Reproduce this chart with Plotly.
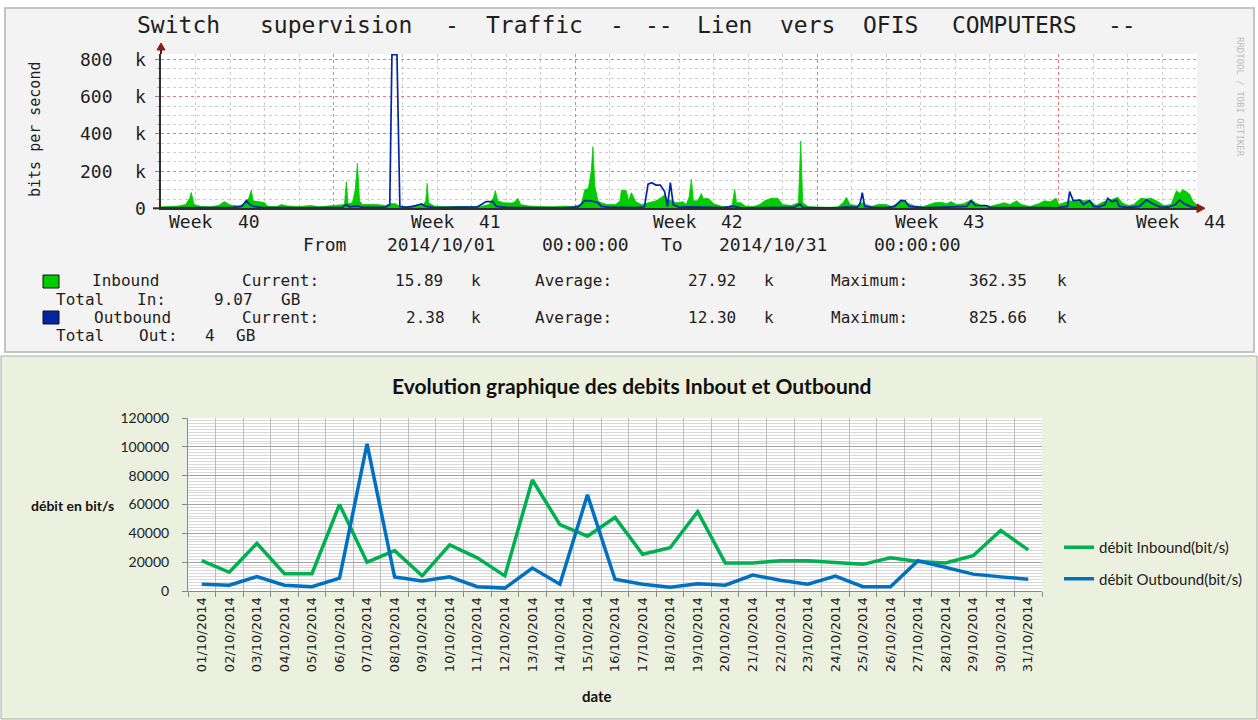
import plotly.graph_objects as go
import pandas as pd

W, H = 1258, 720


def px(x):
    return x / W


def py(y):
    return 1 - y / H


# ---------------- top chart data (RRDtool traffic, k bits/s) ----------------
in_hours = [0, 6, 12, 17, 20, 21, 23, 28, 34, 40, 44, 48, 54, 58, 61, 62.8, 64, 68, 72, 74,
            80, 83.6, 88, 96, 104, 110, 118, 124, 127.5, 128.8, 130, 133, 135, 136.5, 138, 140,
            148, 156, 160, 163, 166, 172, 178, 182, 184, 185, 186, 190, 198, 206, 214, 222,
            228, 231, 232.4, 234, 238, 244, 246, 248, 250, 256, 264, 272, 280, 286, 292, 294.5,
            297, 299, 300.2, 301.5, 303.7, 306, 310, 316, 319, 320, 323.4, 325, 326.9, 330, 334,
            338.5, 344, 348, 350, 352, 355, 358, 362.8, 365, 367, 368.6, 370, 373, 375.5, 377,
            379, 381, 384, 390, 394, 397, 398.7, 400, 403, 406, 412, 416, 419.5, 424, 428.8,
            432, 438, 443, 444.6, 446, 450, 457, 464, 470.5, 474, 476.3, 479, 484, 487.4, 490,
            494, 498, 503, 508, 512, 515.7, 518, 524, 530, 537.7, 542.3, 546, 549, 553, 558,
            563, 566, 570, 576, 581, 586, 590, 594.5, 598, 604, 610, 614, 618, 622, 624, 628,
            631.5, 635, 638.5, 642, 645.4, 650, 655, 660, 665, 668, 672, 676, 681, 685, 688,
            693, 697, 702, 705.7, 708, 710, 712.6, 715, 717, 720]
in_kbps = [8, 10, 12, 20, 55, 85, 20, 10, 8, 15, 36, 18, 12, 25, 55, 98, 40, 36, 30, 12,
           8, 20, 12, 10, 15, 8, 12, 18, 20, 143, 25, 30, 100, 242, 40, 20,
           22, 15, 25, 25, 10, 8, 18, 15, 40, 134, 30, 12, 8, 10, 8, 10,
           20, 55, 95, 40, 30, 28, 35, 54, 20, 12, 10, 8, 12, 10, 20, 100,
           107, 200, 331, 120, 40, 30, 20, 20, 40, 98, 95, 40, 84, 35, 20,
           30, 40, 60, 72, 50, 40, 30, 35, 20, 60, 156, 40, 40, 80, 50,
           54, 50, 25, 10, 8, 20, 102, 30, 30, 12, 10, 20, 40, 54, 54,
           20, 15, 30, 362, 30, 8, 5, 5, 8, 30, 59, 20, 15, 30, 20,
           10, 20, 22, 10, 30, 45, 30, 12, 10, 30, 32, 25, 36, 20, 25,
           45, 30, 15, 10, 20, 30, 20, 40, 20, 10, 25, 40, 35, 55, 20, 30,
           40, 35, 45, 40, 45, 15, 35, 45, 60, 30, 15, 20, 55, 50, 55,
           35, 15, 20, 95, 80, 100, 90, 75, 40, 16]

out_hours = [0, 10, 20, 30, 40, 50, 56, 59.3, 61, 64, 70, 80, 90, 100, 110, 120, 126, 128.8,
             131, 134, 137, 140, 150, 156, 159, 160.5, 164, 166, 170, 175, 178.6, 181, 184,
             190, 200, 210, 220, 226, 230.7, 233, 240, 250, 260, 270, 280, 290, 294.5, 299,
             303.7, 306, 312, 320, 330, 336, 338.5, 341, 344, 347, 350, 352, 354, 356, 360,
             366, 372, 378, 390, 398, 402, 410, 420, 430, 440, 444, 446, 456, 470, 476, 484,
             486, 487.4, 489, 495, 505, 510, 514, 517, 520, 530, 540, 550, 560, 563, 566,
             573.6, 576, 586, 594, 604, 614, 622, 630, 631.5, 634, 638.5, 641, 645.4, 648,
             652, 656, 658, 661, 664, 666, 672, 680, 685, 688, 694, 700, 705, 708, 711, 716,
             720]
out_kbps = [3, 3, 4, 3, 3, 5, 10, 41, 25, 10, 5, 3, 4, 3, 4, 3, 5, 20,
            8, 10, 12, 5, 4, 5, 20, 826, 826, 10, 5, 10, 18, 23, 10,
            4, 5, 6, 8, 36, 36, 10, 5, 4, 4, 3, 3, 8, 41, 40,
            30, 10, 5, 5, 4, 8, 130, 138, 125, 125, 90, 10, 138, 20, 5,
            8, 8, 5, 4, 10, 4, 3, 4, 3, 5, 23, 5, 2, 2, 8, 5,
            30, 84, 10, 5, 4, 10, 41, 41, 10, 4, 5, 6, 10, 41, 15,
            15, 5, 4, 5, 3, 4, 3, 10, 90, 40, 45, 20, 41, 10,
            8, 20, 54, 35, 45, 10, 5, 10, 45, 30, 8, 6, 20, 45, 25, 8,
            2.4]

week_labels = ["Week 40", "Week 41", "Week 42", "Week 43", "Week 44"]
week_centers = ["2014-10-02 12:00", "2014-10-09 12:00", "2014-10-16 12:00",
                "2014-10-23 12:00", "2014-10-30 12:00"]
week_starts = ["2014-10-06", "2014-10-13", "2014-10-20", "2014-10-27"]
top_yticks = [0, 200, 400, 600, 800]
top_yticktext = ["0", "200 k", "400 k", "600 k", "800 k"]

# ---------------- bottom chart data (daily averages, bit/s) ----------------
dates = ["01/10/2014", "02/10/2014", "03/10/2014", "04/10/2014", "05/10/2014",
         "06/10/2014", "07/10/2014", "08/10/2014", "09/10/2014", "10/10/2014",
         "11/10/2014", "12/10/2014", "13/10/2014", "14/10/2014", "15/10/2014",
         "16/10/2014", "17/10/2014", "18/10/2014", "19/10/2014", "20/10/2014",
         "21/10/2014", "22/10/2014", "23/10/2014", "24/10/2014", "25/10/2014",
         "26/10/2014", "27/10/2014", "28/10/2014", "29/10/2014", "30/10/2014",
         "31/10/2014"]
inbound_bps = [21000, 13000, 33000, 12000, 12000, 60000, 20000, 28000, 10500, 32000,
               23000, 10500, 77000, 46000, 38000, 51000, 25500, 30000, 55000, 19500,
               19500, 21000, 21000, 19500, 18500, 23000, 20500, 19500, 24500, 42000,
               28500]
outbound_bps = [4700, 4000, 10000, 4000, 3000, 8900, 102000, 9800, 7000, 9800,
                3000, 2000, 15900, 4700, 66700, 8200, 4700, 2600, 5100, 4000,
                11000, 7500, 4700, 10300, 3000, 3000, 21000, 16300, 11700, 9800,
                8200]

t0 = pd.Timestamp("2014-10-01")
in_t = t0 + pd.to_timedelta(in_hours, unit="h")
out_t = t0 + pd.to_timedelta(out_hours, unit="h")

# minor grid positions that do not coincide with the major (red) grid lines
day_grid = [d for d in pd.date_range("2014-10-02", "2014-10-30", freq="D") if d.weekday() != 0]
y_minor_grid = [v for v in range(50, 830, 50) if v % 200 != 0]

fig = go.Figure()
fig.add_trace(go.Scatter(x=in_t, y=in_kbps, mode="lines", fill="tozeroy",
                         line=dict(color="#00CC00", width=0.8), fillcolor="#00CC00",
                         xaxis="x", yaxis="y", showlegend=False, hoverinfo="skip"))
fig.add_trace(go.Scatter(x=out_t, y=out_kbps, mode="lines",
                         line=dict(color="#0026A6", width=1.7),
                         xaxis="x", yaxis="y", showlegend=False, hoverinfo="skip"))

fig.add_trace(go.Scatter(x=dates, y=inbound_bps, mode="lines", name="débit Inbound(bit/s)",
                         line=dict(color="#00B050", width=3.5), xaxis="x2", yaxis="y2",
                         legendgroup="in"))
fig.add_trace(go.Scatter(x=dates, y=outbound_bps, mode="lines", name="débit Outbound(bit/s)",
                         line=dict(color="#0070C0", width=3.5), xaxis="x2", yaxis="y2",
                         legendgroup="out"))

MONO = "DejaVu Sans Mono"
TXT = "#1e1e1e"
annotations = []


def mono(text, x, y, pitch, size, xref="paper", yref="paper", anchor="left", color=TXT):
    """Place a monospace string word by word on a fixed character pitch (px)."""
    n = len(text)
    k = 0
    while k < n:
        if text[k] == " ":
            k += 1
            continue
        j = k
        while j < n and text[j] != " ":
            j += 1
        word = text[k:j]
        if anchor == "left":
            shift = (k + len(word) / 2) * pitch
        elif anchor == "right":
            shift = (k + len(word) / 2 - n) * pitch
        else:
            shift = (k + len(word) / 2 - n / 2) * pitch
        annotations.append(dict(x=x, y=y, xref=xref, yref=yref, text=word,
                                showarrow=False, xanchor="center", yanchor="middle",
                                xshift=shift, borderpad=0,
                                font=dict(family=MONO, size=size, color=color)))
        k = j


# top title
mono("Switch supervision - Traffic - -- Lien vers OFIS COMPUTERS --",
     px(129), py(25), 16.55, 23)
# week labels
for lab, c in zip(week_labels, week_centers):
    mono(lab, c, py(221), 14.3, 18, xref="x", anchor="center")
mono("From 2014/10/01 00:00:00 To 2014/10/31 00:00:00", px(296), py(244), 14.45, 18)
# y tick labels of the top chart
for v, lab in zip(top_yticks, top_yticktext):
    mono(lab, px(148), v, 14.6, 18, yref="y", anchor="right")

# legend block of the top chart
rows = [
    (281, [("Inbound", 75), ("Current:", 223), ("15.89 k", 383), ("Average:", 516),
           ("27.92 k", 676), ("Maximum:", 812), ("362.35 k", 955)]),
    (299, [("Total In:", 44), ("9.07 GB", 205)]),
    (317, [("Outbound", 75), ("Current:", 223), ("2.38 k", 397), ("Average:", 516),
           ("12.30 k", 676), ("Maximum:", 812), ("825.66 k", 955)]),
    (335, [("Total Out:", 44), ("4 GB", 203)]),
]
for yy, fields in rows:
    for txt, xx in fields:
        mono(txt, px(xx), py(yy), 14.3, 16)

annotations.append(dict(x=px(35), y=py(130), xref="paper", yref="paper",
                        xanchor="center", yanchor="middle",
                        text="bits per second", textangle=-90, showarrow=False,
                        font=dict(family=MONO, size=15, color=TXT)))
annotations.append(dict(x=px(1240), y=py(97), xref="paper", yref="paper",
                        xanchor="center", yanchor="middle",
                        text="RRDTOOL / TOBI OETIKER", textangle=90, showarrow=False,
                        font=dict(family=MONO, size=9, color="#BDBDBD")))

# bottom chart texts
annotations.append(dict(x=px(631), y=py(385), xref="paper", yref="paper",
                        xanchor="center", yanchor="middle",
                        text="<b>Evolution graphique des debits Inbout et Outbound</b>",
                        showarrow=False, font=dict(family="Lato", size=21, color="#111")))
annotations.append(dict(x=px(72), y=py(506), xref="paper", yref="paper",
                        xanchor="center", yanchor="middle",
                        text="<b>débit en bit/s</b>", showarrow=False,
                        font=dict(family="Lato", size=14, color="#111")))
annotations.append(dict(x=px(597), y=py(696), xref="paper", yref="paper",
                        xanchor="center", yanchor="middle",
                        text="<b>date</b>", showarrow=False,
                        font=dict(family="Lato", size=15, color="#111")))

AX = "#2f2f2f"
ARROW = "#8B1A1A"
shapes = [
    # top panel
    dict(type="rect", xref="paper", yref="paper", x0=px(5), x1=px(1254), y0=py(352), y1=py(8),
         fillcolor="#F3F3F3", line=dict(color="#C4C4C4", width=2), layer="below"),
    dict(type="rect", xref="x domain", yref="y domain", x0=0, x1=1, y0=0, y1=1,
         fillcolor="white", line=dict(width=0), layer="below"),
    # bottom panel
    dict(type="rect", xref="paper", yref="paper", x0=px(1), x1=px(1257), y0=py(719), y1=py(356),
         fillcolor="#ECF1DF", line=dict(color="#A9A9A9", width=1), layer="below"),
    dict(type="rect", xref="x2 domain", yref="y2 domain", x0=0, x1=1, y0=0, y1=1,
         fillcolor="white", line=dict(width=0), layer="below"),
    # axis extensions and arrows (top chart)
    dict(type="line", xref="paper", yref="paper", x0=px(161), x1=px(161), y0=py(54), y1=py(49),
         line=dict(color=AX, width=2)),
    dict(type="path", xref="paper", yref="paper",
         path=f"M {px(157)} {py(50)} L {px(165)} {py(50)} L {px(161)} {py(43)} Z",
         fillcolor=ARROW, line=dict(color=ARROW, width=1)),
    dict(type="line", xref="paper", yref="paper", x0=px(153), x1=px(161), y0=py(208.3), y1=py(208.3),
         line=dict(color=AX, width=2)),
    dict(type="path", xref="paper", yref="paper",
         path=f"M {px(1197)} {py(204)} L {px(1197)} {py(212.6)} L {px(1205)} {py(208.3)} Z",
         fillcolor=ARROW, line=dict(color=ARROW, width=1)),
    # legend colour boxes (top chart)
    dict(type="rect", xref="paper", yref="paper", x0=px(43), x1=px(59), y0=py(288), y1=py(275),
         fillcolor="#00CC00", line=dict(color="#111", width=1)),
    dict(type="rect", xref="paper", yref="paper", x0=px(43), x1=px(59), y0=py(324), y1=py(311),
         fillcolor="#0026A6", line=dict(color="#111", width=1)),
]

RED_GRID = "#EE7777"
GREY_GRID = "#CDCDCD"

fig.update_layout(
    width=W, height=H, autosize=False,
    margin=dict(l=0, r=0, t=0, b=0, pad=0, autoexpand=False),
    paper_bgcolor="white", plot_bgcolor="white",
    showlegend=True,
    legend=dict(x=px(1059), y=py(531), xanchor="left", yanchor="top",
                bgcolor="rgba(0,0,0,0)", tracegroupgap=9, itemwidth=30,
                font=dict(family="Lato", size=15, color="#1a1a1a")),
    xaxis=dict(domain=[px(161), px(1197)], type="date", automargin=False,
               range=["2014-10-01", "2014-10-31"], anchor="y",
               tickvals=week_starts, showticklabels=False, ticks="",
               showgrid=True, gridcolor=RED_GRID, griddash="dot", gridwidth=1,
               minor=dict(tickvals=day_grid, showgrid=True,
                          gridcolor=GREY_GRID, griddash="dot", gridwidth=1),
               showline=True, linecolor=AX, linewidth=2, zeroline=False,
               fixedrange=True),
    yaxis=dict(domain=[py(208.3), py(54)], range=[0, 830], anchor="x", automargin=False,
               tickvals=top_yticks, showticklabels=False,
               ticks="outside", ticklen=4, tickcolor="#888",
               showgrid=True, gridcolor=RED_GRID, griddash="dot", gridwidth=1,
               minor=dict(tickvals=y_minor_grid, showgrid=True, gridcolor=GREY_GRID,
                          griddash="dot", ticks="outside", ticklen=2, tickcolor="#aaa"),
               showline=True, linecolor=AX, linewidth=2, zeroline=False,
               fixedrange=True),
    xaxis2=dict(domain=[px(188), px(1042)], type="category", anchor="y2", automargin=False,
                categoryorder="array", categoryarray=dates, range=[-0.5, 30.5],
                tickson="boundaries", ticks="outside", ticklen=5, tickcolor="#8a8a8a",
                tickangle=-90, tickfont=dict(family="DejaVu Sans", size=13, color="#222"),
                showgrid=True, gridcolor="#BDBDBD", gridwidth=1,
                showline=True, linecolor="#8a8a8a", linewidth=1, zeroline=False,
                fixedrange=True),
    yaxis2=dict(domain=[py(591), py(418)], range=[0, 120000], anchor="x2", automargin=False,
                dtick=20000, tickformat="d", ticklabelstandoff=10,
                tickfont=dict(family="Lato", size=14, color="#222"),
                ticks="outside", ticklen=5, tickcolor="#8a8a8a",
                showgrid=True, gridcolor="#A3A3A3", gridwidth=1,
                minor=dict(dtick=2000, showgrid=True, gridcolor="#D9D9D9", gridwidth=1),
                showline=True, linecolor="#8a8a8a", linewidth=1, zeroline=False,
                fixedrange=True),
    annotations=annotations,
    shapes=shapes,
)

fig.write_html("out.html", config={"displayModeBar": False},
               post_script="document.body.style.margin='0px';")
